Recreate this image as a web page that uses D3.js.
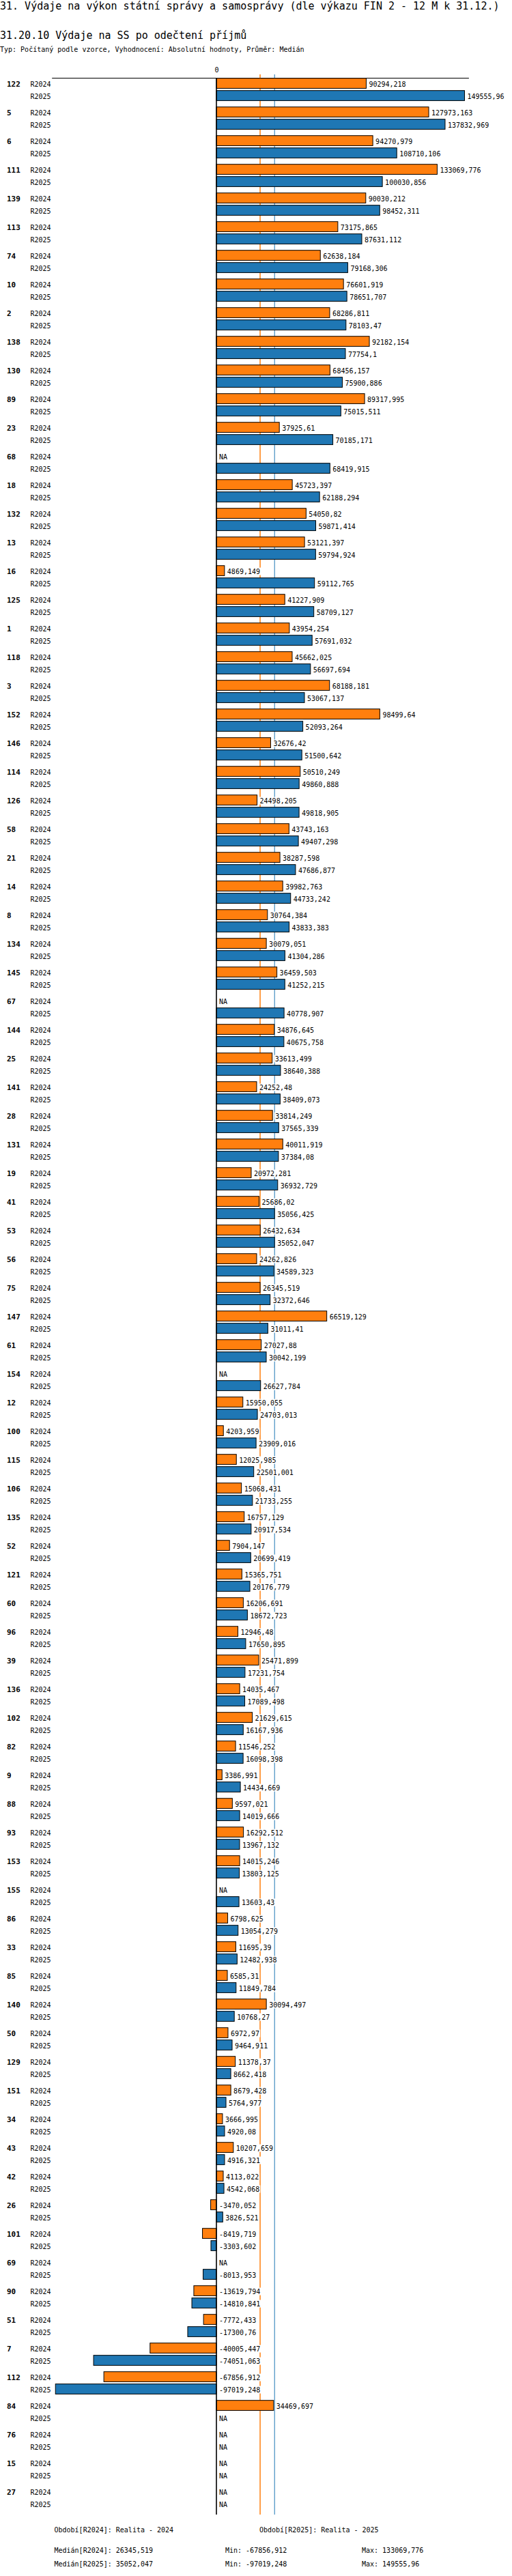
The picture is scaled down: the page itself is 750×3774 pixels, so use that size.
<!DOCTYPE html>
<html>
<head>
<meta charset="utf-8">
<script src="https://cdn.jsdelivr.net/npm/d3@7"></script>
<style>
  body { margin: 0; background: #fff; }
  svg { display: block; font-family: 'DejaVu Sans Mono', monospace; }
</style>
</head>
<body>
<div class="chart"></div>
<script>
const categories = ['122', '5', '6', '111', '139', '113', '74', '10', '2', '138', '130', '89', '23', '68', '18', '132', '13', '16', '125', '1', '118', '3', '152', '146', '114', '126', '58', '21', '14', '8', '134', '145', '67', '144', '25', '141', '28', '131', '19', '41', '53', '56', '75', '147', '61', '154', '12', '100', '115', '106', '135', '52', '121', '60', '96', '39', '136', '102', '82', '9', '88', '93', '153', '155', '86', '33', '85', '140', '50', '129', '151', '34', '43', '42', '26', '101', '69', '90', '51', '7', '112', '84', '76', '15', '27'];

const r2024 = [90294.218, 127973.163, 94270.979, 133069.776, 90030.212, 73175.865, 62638.184, 76601.919, 68286.811, 92182.154, 68456.157, 89317.995, 37925.61, null, 45723.397, 54050.82, 53121.397, 4869.149, 41227.909, 43954.254, 45662.025, 68188.181, 98499.64, 32676.42, 50510.249, 24498.205, 43743.163, 38287.598, 39982.763, 30764.384, 30079.051, 36459.503, null, 34876.645, 33613.499, 24252.48, 33814.249, 40011.919, 20972.281, 25686.02, 26432.634, 24262.826, 26345.519, 66519.129, 27027.88, null, 15950.055, 4203.959, 12025.985, 15068.431, 16757.129, 7904.147, 15365.751, 16206.691, 12946.48, 25471.899, 14035.467, 21629.615, 11546.252, 3386.991, 9597.021, 16292.512, 14015.246, null, 6798.625, 11695.39, 6585.31, 30094.497, 6972.97, 11378.37, 8679.428, 3666.995, 10207.659, 4113.022, -3470.052, -8419.719, null, -13619.794, -7772.433, -40005.447, -67856.912, 34469.697, null, null, null];

const r2025 = [149555.96, 137832.969, 108710.106, 100030.856, 98452.311, 87631.112, 79168.306, 78651.707, 78103.47, 77754.1, 75900.886, 75015.511, 70185.171, 68419.915, 62188.294, 59871.414, 59794.924, 59112.765, 58709.127, 57691.032, 56697.694, 53067.137, 52093.264, 51500.642, 49860.888, 49818.905, 49407.298, 47686.877, 44733.242, 43833.383, 41304.286, 41252.215, 40778.907, 40675.758, 38640.388, 38409.073, 37565.339, 37384.08, 36932.729, 35056.425, 35052.047, 34589.323, 32372.646, 31011.41, 30042.199, 26627.784, 24703.013, 23909.016, 22501.001, 21733.255, 20917.534, 20699.419, 20176.779, 18672.723, 17650.895, 17231.754, 17089.498, 16167.936, 16098.398, 14434.669, 14019.666, 13967.132, 13803.125, 13603.43, 13054.279, 12482.938, 11849.784, 10768.27, 9464.911, 8662.418, 5764.977, 4920.08, 4916.321, 4542.068, 3826.521, -3303.602, -8013.953, -14810.841, -17300.76, -74051.063, -97019.248, null, null, null, null];

const seriesKeys = ['R2024', 'R2025'];
const seriesNames = ['Realita - 2024', 'Realita - 2025'];
const seriesColors = ['#ff7f0e', '#1f77b4'];
const xDomain = [-99300, 152000];

const fmt = (v) => String(v).replace('.', ',');
const WIDTH = 750;
const HEIGHT = 3774;
const PLOT = { top: 114, left: 75.7, right: 686.4, step: 42 };

const series = [r2024, r2025];
const rows = [];
categories.forEach((c, i) => {
    seriesKeys.forEach((k, j) => {
        rows.push({ cat: c, key: k, value: series[j][i], color: seriesColors[j] });
    });
});

const svg = d3
    .select('.chart')
    .append('svg')
    .attr('width', WIDTH)
    .attr('height', HEIGHT);

// Headings
svg.append('text').attr('x', 0).attr('y', 14).attr('font-size', 15)
    .text('31. Výdaje na výkon státní správy a samosprávy (dle výkazu FIN 2 - 12 M k 31.12.)');
svg.append('text').attr('x', 0).attr('y', 57).attr('font-size', 15)
    .text('31.20.10 Výdaje na SS po odečtení příjmů');
svg.append('text').attr('x', 0).attr('y', 76).attr('font-size', 10)
    .text('Typ: Počítaný podle vzorce, Vyhodnocení: Absolutní hodnoty, Průměr: Medián');

// Scales
const bottom = PLOT.top + PLOT.step * categories.length;
const xScale = d3.scaleLinear().domain(xDomain).range([PLOT.left, PLOT.right]);
const yScale = d3.scaleBand().domain(categories).range([PLOT.top, bottom]);
const innerScale = d3.scaleBand().domain(seriesKeys).range([0.7, 33.4]).paddingInner(0.18);
const x0 = xScale(0);

// Top axis with the zero tick
const xAxis = d3.axisTop(xScale).tickValues([0]).tickSize(0).tickPadding(8);
const xAxisEl = svg.append('g').attr('transform', `translate(0, ${PLOT.top})`).call(xAxis);
xAxisEl.select('.domain').attr('stroke', '#000').attr('stroke-width', 1);
xAxisEl.selectAll('text').attr('font-family', 'DejaVu Sans Mono').attr('font-size', 10).attr('fill', '#000');

// Median lines
const medians = series.map((s) => d3.median(s.filter((v) => v !== null)));
medians.forEach((m, j) => {
    svg.append('line')
        .attr('x1', xScale(m)).attr('x2', xScale(m))
        .attr('y1', PLOT.top - 5).attr('y2', bottom)
        .attr('stroke', seriesColors[j])
        .attr('stroke-width', j === 0 ? 1.5 : 1);
});

// Category labels and series labels
svg.append('g')
    .selectAll('text')
    .data(categories)
    .join('text')
    .attr('x', 10)
    .attr('y', (d) => yScale(d) + innerScale('R2024') + innerScale.bandwidth() / 2 + 1)
    .attr('dy', '0.35em')
    .attr('font-size', 11)
    .attr('font-weight', 'bold')
    .text((d) => d);

svg.append('g')
    .selectAll('text')
    .data(rows)
    .join('text')
    .attr('x', 44.5)
    .attr('y', (d) => yScale(d.cat) + innerScale(d.key) + innerScale.bandwidth() / 2 + 1)
    .attr('dy', '0.35em')
    .attr('font-size', 10)
    .text((d) => d.key);

// Bars
svg.append('g')
    .selectAll('rect')
    .data(rows.filter((d) => d.value !== null))
    .join('rect')
    .attr('x', (d) => Math.min(x0, xScale(d.value)))
    .attr('y', (d) => yScale(d.cat) + innerScale(d.key))
    .attr('width', (d) => Math.abs(xScale(d.value) - x0))
    .attr('height', innerScale.bandwidth())
    .attr('fill', (d) => d.color)
    .attr('stroke', '#000')
    .attr('stroke-width', 1);

// Value labels with white backing
const labels = svg.append('g')
    .selectAll('g')
    .data(rows)
    .join('g')
    .attr('transform', (d) => {
        const lx = d.value !== null && d.value > 0 ? xScale(d.value) + 4 : x0 + 4;
        const ly = yScale(d.cat) + innerScale(d.key) + innerScale.bandwidth() / 2 + 1;
        return `translate(${lx}, ${ly})`;
    });
labels.append('rect')
    .attr('fill', '#fff');
labels.append('text')
    .attr('dy', '0.35em')
    .attr('font-size', 10)
    .text((d) => (d.value === null ? 'NA' : fmt(d.value)));
labels.each(function () {
    const box = d3.select(this).select('text').node().getBBox();
    d3.select(this).select('rect')
        .attr('x', box.x - 1).attr('y', box.y)
        .attr('width', box.width + 2).attr('height', box.height);
});

// Zero line
svg.append('line')
    .attr('x1', x0).attr('x2', x0)
    .attr('y1', PLOT.top).attr('y2', bottom)
    .attr('stroke', '#000').attr('stroke-width', 1.6);

// Footer
const footer = svg.append('g').attr('font-size', 10);
seriesKeys.forEach((k, j) => {
    footer.append('text').attr('x', j === 0 ? 79.5 : 380).attr('y', 3710)
        .text(`Období[${k}]: ${seriesNames[j]}`);
    const vals = series[j].filter((v) => v !== null);
    const fy = 3740 + j * 20;
    footer.append('text').attr('x', 79.5).attr('y', fy).text(`Medián[${k}]: ${fmt(medians[j])}`);
    footer.append('text').attr('x', 330).attr('y', fy).text(`Min: ${fmt(d3.min(vals))}`);
    footer.append('text').attr('x', 530).attr('y', fy).text(`Max: ${fmt(d3.max(vals))}`);
});
</script>
</body>
</html>
